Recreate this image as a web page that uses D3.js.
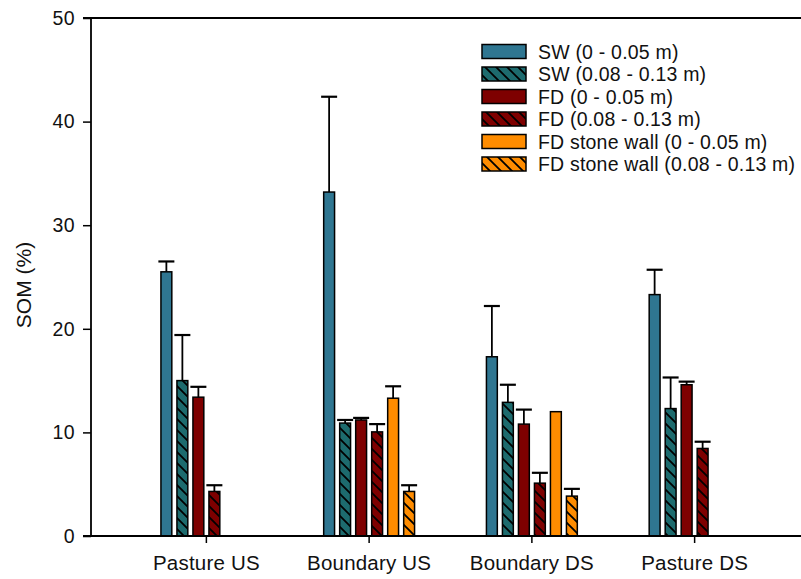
<!DOCTYPE html>
<html>
<head>
<meta charset="utf-8">
<script src="https://cdn.jsdelivr.net/npm/d3@7/dist/d3.min.js"></script>
<style>
  html, body { margin: 0; padding: 0; background: #fff; }
  svg { display: block; font-family: "Liberation Sans", Arial, sans-serif; }
</style>
</head>
<body>
<svg id="chart" width="801" height="579"></svg>
<script>
// ---- data ----
const categories = ["Pasture US", "Boundary US", "Boundary DS", "Pasture DS"];
const seriesNames = [
  "SW (0 - 0.05 m)",
  "SW (0.08 - 0.13 m)",
  "FD (0 - 0.05 m)",
  "FD (0.08 - 0.13 m)",
  "FD stone wall (0 - 0.05 m)",
  "FD stone wall (0.08 - 0.13 m)"
];
// mean values per series, in category order (null = no bar)
const sw0   = [25.5, 33.2, 17.3, 23.3];
const sw8   = [15.0, 10.9, 12.9, 12.3];
const fd0   = [13.4, 11.2, 10.8, 14.6];
const fd8   = [4.3, 10.05, 5.1, 8.45];
const fsw0  = [null, 13.3, 12.0, null];
const fsw8  = [null, 4.3, 3.85, null];
// upper error per series
const sw0Err  = [1.0, 9.2, 4.9, 2.4];
const sw8Err  = [4.4, 0.3, 1.7, 3.0];
const fd0Err  = [1.0, 0.2, 1.4, 0.3];
const fd8Err  = [0.6, 0.75, 1.0, 0.65];
const fsw0Err = [null, 1.15, 0, null];
const fsw8Err = [null, 0.6, 0.7, null];
const yTicks = [0, 10, 20, 30, 40, 50];
const yLabel = "SOM (%)";

const seriesValues = [sw0, sw8, fd0, fd8, fsw0, fsw8];
const seriesErrors = [sw0Err, sw8Err, fd0Err, fd8Err, fsw0Err, fsw8Err];
const seriesColors = ["#2F7691", "#1D6B6E", "#7E0000", "#7E0000", "#FF8C00", "#FF8C00"];
const seriesHatched = [false, true, false, true, false, true];

// ---- layout ----
const svg = d3.select("#chart");
const axisLeft = 91, axisBottom = 536, axisTop = 18;
const FONT = "Liberation Sans, Arial, sans-serif";

const x = d3.scaleBand().domain(categories).range([125, 776]).padding(0);
const xs = d3.scaleBand().domain(d3.range(seriesNames.length))
  .range([-48, 48]).paddingInner(0.32).paddingOuter(0.16);
const y = d3.scaleLinear().domain([0, 50]).range([axisBottom, axisTop]);

// patterns
const defs = svg.append("defs");
seriesColors.forEach((c, i) => {
  if (!seriesHatched[i]) return;
  const p = defs.append("pattern")
    .attr("id", "hatch" + i)
    .attr("patternUnits", "userSpaceOnUse")
    .attr("width", 11).attr("height", 11);
  p.append("rect").attr("width", 11).attr("height", 11).attr("fill", c);
  p.append("path")
    .attr("d", "M-1,-1 L12,12 M-1,10 L1,12 M10,-1 L12,1")
    .attr("stroke", "#000").attr("stroke-width", 1.8);
});
const fillFor = i => seriesHatched[i] ? `url(#hatch${i})` : seriesColors[i];

// bars
const barData = [];
seriesValues.forEach((vals, si) => {
  vals.forEach((v, ci) => {
    if (v == null) return;
    barData.push({ s: si, c: categories[ci], v: v, e: seriesErrors[si][ci] });
  });
});

const g = svg.append("g");
g.selectAll("g.err").data(barData.filter(d => d.e != null && d.e > 0)).join("g")
  .attr("class", "err")
  .each(function(d) {
    const cx = x(d.c) + x.bandwidth() / 2 + xs(d.s) + xs.bandwidth() / 2;
    const sel = d3.select(this);
    sel.append("line")
      .attr("x1", cx).attr("x2", cx)
      .attr("y1", y(d.v)).attr("y2", y(d.v + d.e))
      .attr("stroke", "#000").attr("stroke-width", 1.8);
    sel.append("line")
      .attr("x1", cx - 8).attr("x2", cx + 8)
      .attr("y1", y(d.v + d.e)).attr("y2", y(d.v + d.e))
      .attr("stroke", "#000").attr("stroke-width", 2.2);
  });

g.selectAll("rect.bar").data(barData).join("rect")
  .attr("class", "bar")
  .attr("x", d => x(d.c) + x.bandwidth() / 2 + xs(d.s))
  .attr("width", xs.bandwidth())
  .attr("y", d => y(d.v))
  .attr("height", d => y(0) - y(d.v))
  .attr("fill", d => fillFor(d.s))
  .attr("stroke", "#000").attr("stroke-width", 1.5);

// axes
const yAxis = d3.axisLeft(y).tickValues(yTicks).tickSize(8).tickPadding(8);
const ya = svg.append("g").attr("transform", `translate(${axisLeft},0)`).call(yAxis);
ya.select(".domain").remove();
ya.selectAll(".tick line").attr("stroke", "#000").attr("stroke-width", 1.5);
ya.selectAll(".tick text").attr("font-size", 19.5).attr("fill", "#111")
  .attr("letter-spacing", "0.4px").attr("font-family", FONT);

svg.append("line").attr("x1", axisLeft).attr("x2", axisLeft)
  .attr("y1", axisTop).attr("y2", axisBottom)
  .attr("stroke", "#000").attr("stroke-width", 1.8);
svg.append("line").attr("x1", axisLeft - 8).attr("x2", 801)
  .attr("y1", axisTop).attr("y2", axisTop)
  .attr("stroke", "#000").attr("stroke-width", 1.8);

const xAxis = d3.axisBottom(x).tickSize(7).tickPadding(12);
const xa = svg.append("g").attr("transform", `translate(0,${axisBottom})`).call(xAxis);
xa.select(".domain").remove();
xa.selectAll(".tick line").attr("stroke", "#000").attr("stroke-width", 1.5);
xa.selectAll(".tick text").attr("font-size", 20.5).attr("fill", "#111")
  .attr("letter-spacing", "0.2px").attr("font-family", FONT);
svg.append("line").attr("x1", axisLeft - 8).attr("x2", 801)
  .attr("y1", axisBottom).attr("y2", axisBottom)
  .attr("stroke", "#000").attr("stroke-width", 1.8);

svg.append("text")
  .attr("transform", `translate(31,${(axisTop + axisBottom) / 2 + 8}) rotate(-90)`)
  .attr("text-anchor", "middle")
  .attr("font-size", 21).attr("fill", "#111").attr("font-family", FONT)
  .text(yLabel);

// legend
const lg = svg.append("g");
seriesNames.forEach((name, i) => {
  const cy = 51.5 + i * 22.5;
  lg.append("rect").attr("x", 482).attr("y", cy - 7).attr("width", 44).attr("height", 14)
    .attr("fill", fillFor(i)).attr("stroke", "#000").attr("stroke-width", 1.5);
  lg.append("text").attr("x", 538).attr("y", cy).attr("dy", "0.36em")
    .attr("font-size", 19.5).attr("letter-spacing", "0.2px")
    .attr("font-family", FONT).attr("fill", "#111").text(name);
});
</script>
</body>
</html>
